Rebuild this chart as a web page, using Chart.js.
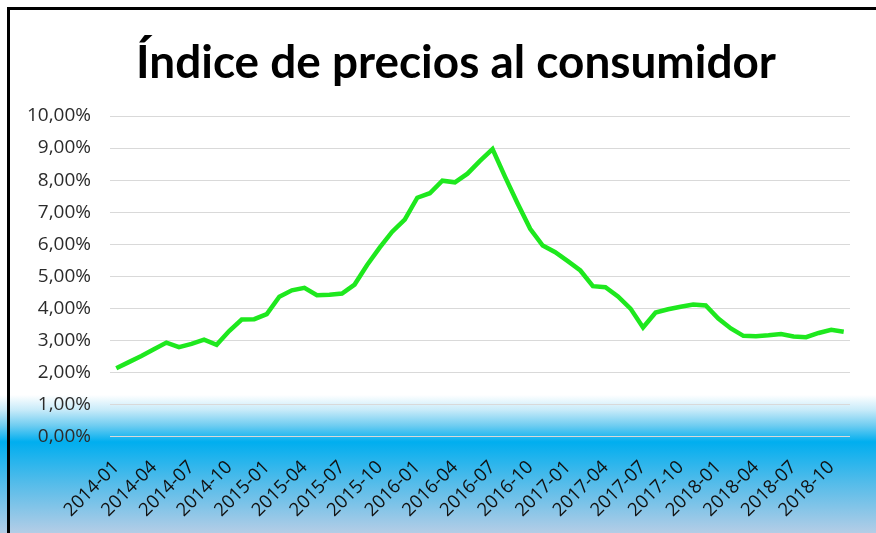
<!DOCTYPE html>
<html>
<head>
<meta charset="utf-8">
<script src="https://cdn.jsdelivr.net/npm/chart.js@4"></script>
<style>
  html, body { margin: 0; padding: 0; background: #fff; }
  #wrap { position: relative; width: 876px; height: 533px; }
</style>
</head>
<body>
<div id="wrap"><canvas id="graph" width="876" height="533"></canvas></div>
<script>
// título
const TITLE = 'Índice de precios al consumidor';

// meses (categorías)
const labels = [
  '2014-01','2014-02','2014-03','2014-04','2014-05','2014-06','2014-07','2014-08','2014-09','2014-10','2014-11','2014-12',
  '2015-01','2015-02','2015-03','2015-04','2015-05','2015-06','2015-07','2015-08','2015-09','2015-10','2015-11','2015-12',
  '2016-01','2016-02','2016-03','2016-04','2016-05','2016-06','2016-07','2016-08','2016-09','2016-10','2016-11','2016-12',
  '2017-01','2017-02','2017-03','2017-04','2017-05','2017-06','2017-07','2017-08','2017-09','2017-10','2017-11','2017-12',
  '2018-01','2018-02','2018-03','2018-04','2018-05','2018-06','2018-07','2018-08','2018-09','2018-10','2018-11'
];

// variación anual (%)
const ipc2014 = [2.13, 2.32, 2.51, 2.72, 2.93, 2.79, 2.89, 3.02, 2.86, 3.29, 3.65, 3.66];
const ipc2015 = [3.82, 4.36, 4.56, 4.64, 4.41, 4.42, 4.46, 4.74, 5.35, 5.89, 6.39, 6.77];
const ipc2016 = [7.45, 7.59, 7.98, 7.93, 8.20, 8.60, 8.97, 8.10, 7.27, 6.48, 5.96, 5.75];
const ipc2017 = [5.47, 5.18, 4.69, 4.66, 4.37, 3.99, 3.40, 3.87, 3.97, 4.05, 4.12, 4.09];
const ipc2018 = [3.68, 3.37, 3.14, 3.13, 3.16, 3.20, 3.12, 3.10, 3.23, 3.33, 3.27];

// eje Y
const yMin = 0;
const yMax = 10;
const yStep = 1;

// cada cuántos meses se muestra la etiqueta
const labelEvery = 3;

const ipcData = [].concat(ipc2014, ipc2015, ipc2016, ipc2017, ipc2018);

// fondo degradado + marco + título
const decoPlugin = {
  id: 'deco',
  beforeDraw(chart) {
    const ctx = chart.ctx;
    const w = chart.width, h = chart.height;
    ctx.save();
    ctx.fillStyle = '#ffffff';
    ctx.fillRect(0, 0, w, h);
    const g = ctx.createLinearGradient(0, 395, 0, h);
    g.addColorStop(0, 'rgba(255,255,255,1)');
    g.addColorStop(0.11, '#c6eaf9');
    g.addColorStop(0.22, '#70cdf1');
    g.addColorStop(0.34, '#00aeef');
    g.addColorStop(0.62, '#4fbbea');
    g.addColorStop(1, '#b4cde6');
    ctx.fillStyle = g;
    ctx.fillRect(0, 395, w, h - 395);
    // marco
    ctx.fillStyle = '#000000';
    ctx.fillRect(7, 7, w - 7, 3);
    ctx.fillRect(7, 7, 3, h - 7);
    ctx.restore();
  },
  afterDraw(chart) {
    const ctx = chart.ctx;
    ctx.save();
    let size = 48;
    ctx.font = 'bold ' + size + 'px Lato';
    const tw = ctx.measureText(TITLE).width;
    size = size * 640 / tw;
    ctx.font = 'bold ' + size.toFixed(1) + 'px Lato';
    ctx.fillStyle = '#000000';
    ctx.textAlign = 'center';
    ctx.textBaseline = 'alphabetic';
    ctx.fillText(TITLE, 456, 78);
    ctx.restore();
  }
};

let ipcGraph = new Chart(document.getElementById('graph'), {
  type: 'line',
  data: {
    labels: labels,
    datasets: [{
      label: 'IPC',
      data: ipcData,
      borderColor: '#1ee81e',
      borderWidth: 4.5,
      pointRadius: 0,
      tension: 0,
      fill: false
    }]
  },
  options: {
    responsive: false,
    animation: false,
    layout: { padding: { top: 116, right: 26, left: 0, bottom: 0 } },
    plugins: {
      legend: { display: false },
      title: { display: false },
      tooltip: { enabled: false }
    },
    scales: {
      x: {
        offset: true,
        grid: { display: false, drawTicks: false },
        border: { display: false },
        afterFit: function(s) {
          s.height = 96.5;
          s.paddingLeft = 0;
          s.paddingRight = 0;
        },
        ticks: {
          autoSkip: false,
          maxRotation: 45,
          minRotation: 45,
          padding: 20,
          color: '#111111',
          font: { family: 'Open Sans', size: 18.5 },
          callback: function(v, i) { return i % labelEvery === 0 ? labels[i] : ''; }
        }
      },
      y: {
        min: yMin,
        max: yMax,
        afterFit: function(s) {
          s.width = 110;
          s.paddingTop = 0;
          s.paddingBottom = 0;
        },
        grid: { color: '#d9d9d9', lineWidth: 1, drawTicks: false },
        border: { display: false },
        ticks: {
          stepSize: yStep,
          padding: 19,
          color: '#2b2b2b',
          font: { family: 'Open Sans', size: 19 },
          callback: function(v) { return v.toFixed(2).replace('.', ',') + '%'; }
        }
      }
    }
  },
  plugins: [decoPlugin]
});
</script>
</body>
</html>
